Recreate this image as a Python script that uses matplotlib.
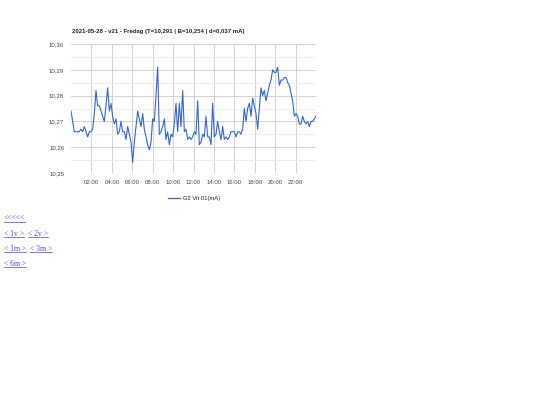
import matplotlib
matplotlib.use("Agg")
import matplotlib.pyplot as plt
import matplotlib.dates as mdates
from matplotlib.ticker import MultipleLocator, FuncFormatter
import numpy as np
import pandas as pd

title = "2021-05-28 - v21 - Fredag (T=10,291 | B=10,254 | d=0,037 mA)"
series_name = "G2 Vit 01(mA)"
values = [
    10.274, 10.270, 10.266, 10.266, 10.266, 10.266, 10.267, 10.266, 10.268, 10.266,
    10.264, 10.266, 10.266, 10.267, 10.273, 10.282, 10.276, 10.276, 10.274, 10.272,
    10.270, 10.276, 10.283, 10.274, 10.277, 10.272, 10.269, 10.271, 10.265, 10.266,
    10.270, 10.266, 10.266, 10.263, 10.268, 10.265, 10.262, 10.254, 10.262, 10.268,
    10.274, 10.271, 10.268, 10.273, 10.267, 10.264, 10.261, 10.259, 10.262, 10.271,
    10.270, 10.280, 10.291, 10.265, 10.266, 10.268, 10.271, 10.263, 10.266, 10.261,
    10.265, 10.264, 10.269, 10.277, 10.266, 10.277, 10.268, 10.282, 10.266, 10.267,
    10.263, 10.264, 10.263, 10.264, 10.266, 10.265, 10.278, 10.261, 10.262, 10.265,
    10.264, 10.272, 10.264, 10.264, 10.261, 10.277, 10.264, 10.265, 10.270, 10.266,
    10.263, 10.268, 10.263, 10.264, 10.263, 10.264, 10.266, 10.266, 10.266, 10.264,
    10.266, 10.266, 10.265, 10.267, 10.275, 10.270, 10.275, 10.277, 10.272, 10.279,
    10.276, 10.273, 10.267, 10.275, 10.283, 10.280, 10.282, 10.278, 10.281, 10.284,
    10.286, 10.290, 10.289, 10.289, 10.291, 10.284, 10.286, 10.286, 10.287, 10.287,
    10.285, 10.284, 10.281, 10.278, 10.272, 10.273, 10.272, 10.269, 10.269, 10.272,
    10.270, 10.269, 10.270, 10.268, 10.270, 10.270, 10.271, 10.272,
]
times = pd.date_range("2021-05-28 00:00", "2021-05-29 00:00", periods=len(values))
y_ticks = [10.25, 10.26, 10.27, 10.28, 10.29, 10.30]
links = [["<<<<<"], ["< 1v >", "< 2v >"], ["< 1m >", "< 3m >"], ["< 6m >"]]

plt.rcParams["font.family"] = ["Liberation Sans", "DejaVu Sans"]

W, H = 540, 405
fig = plt.figure(figsize=(W / 100, H / 100), dpi=100)
ax = fig.add_axes([71 / W, 1 - 173 / H, (316 - 71) / W, (173 - 44) / H])

line_color = "#3366cc"
ax.plot(times, values, color=line_color, lw=0.8)

ax.set_xlim(times[0], times[-1])
ax.set_ylim(y_ticks[0], y_ticks[-1])
ax.set_yticks(y_ticks)
ax.yaxis.set_minor_locator(MultipleLocator(0.005))
ax.yaxis.set_major_formatter(FuncFormatter(lambda v, p: f"{v:.2f}".replace(".", ",")))
ax.xaxis.set_major_locator(mdates.HourLocator(byhour=range(2, 24, 2)))
ax.xaxis.set_major_formatter(mdates.DateFormatter("%H:%M"))

ax.grid(True, which="major", color="#cccccc", lw=0.6)
ax.grid(True, which="minor", axis="y", color="#ebebeb", lw=0.6)
ax.set_axisbelow(True)
for s in ax.spines.values():
    s.set_visible(False)
ax.tick_params(which="both", length=0, labelsize=4.3, labelcolor="#444444", pad=5)

fig.text(72 / W, 1 - 31 / H, title, fontsize=4.3, fontweight="bold", ha="left", va="center", color="#222222")

# legend
fig.add_artist(plt.Line2D([168 / W, 180 / W], [1 - 198 / H] * 2, color=line_color, lw=0.9))
fig.text(183 / W, 1 - 198 / H, series_name, fontsize=4.2, ha="left", va="center", color="#222222")

# links
link_y = [221, 236, 251, 266]
r = fig.canvas.get_renderer()
for parts, yy in zip(links, link_y):
    x = 4
    for part in parts:
        t = fig.text(x / W, 1 - yy / H, part, fontsize=5.5, family="Liberation Serif",
                     ha="left", va="baseline", color="#4a4ad8")
        bb = t.get_window_extent(renderer=r)
        fig.add_artist(plt.Line2D([bb.x0 / W, bb.x1 / W], [(H - yy - 1.2) / H] * 2,
                                  color="#4a4ad8", lw=0.5))
        x = bb.x1 + 3.5

fig.savefig("out.png", dpi=100)
